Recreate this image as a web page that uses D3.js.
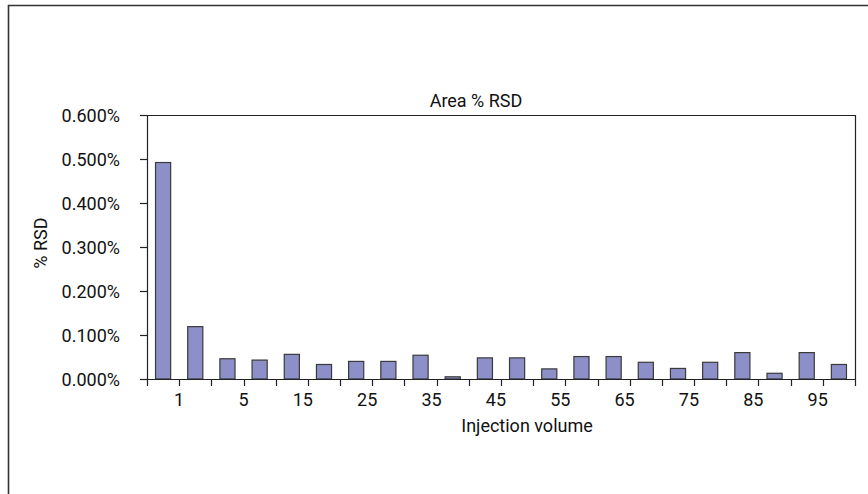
<!DOCTYPE html>
<html>
<head>
<meta charset="utf-8">
<script src="https://cdn.jsdelivr.net/npm/d3@7"></script>
<style>
  html, body { margin: 0; padding: 0; background: #fff; }
  svg { display: block; }
  text { font-family: Roboto, "Liberation Sans", Arial, sans-serif; fill: #111; }
</style>
</head>
<body>
<svg id="chart" width="868" height="494"></svg>
<script>
// ---- data ----
const categories = ["1","2","5","10","15","20","25","30","35","40","45","50","55","60","65","70","75","80","85","90","95","100"];
const rsdValues = [0.00492, 0.00119, 0.00046, 0.00043, 0.00056, 0.00033, 0.00040, 0.00040, 0.00054, 0.00005, 0.00048,
                   0.00048, 0.00023, 0.00051, 0.00051, 0.00038, 0.00024, 0.00038, 0.00060, 0.00013, 0.00060, 0.00033];
const yTickValues = [0, 0.001, 0.002, 0.003, 0.004, 0.005, 0.006];
const chartTitle = "Area % RSD";
const xTitle = "Injection volume";
const yTitle = "% RSD";

const FONT = "Roboto, 'Liberation Sans', Arial, sans-serif";
const FS = "18px";

const svg = d3.select("#chart");

// outer frame (extends beyond right/bottom edges)
svg.append("path")
  .attr("d", "M8.5,900 L8.5,5.5 L900,5.5")
  .attr("fill", "none").attr("stroke", "#333").attr("stroke-width", 1.6);

const pLeft = 147, pRight = 855, pTop = 115, pBottom = 379;

const x = d3.scaleBand().domain(categories).range([pLeft, pRight]).paddingInner(0.53).paddingOuter(0.265);
const xb = d3.scaleBand().domain(categories).range([pLeft, pRight]).padding(0); // band boundaries
const y = d3.scaleLinear().domain([0, 0.006]).range([pBottom, pTop]);

// plot border top & right
svg.append("path")
  .attr("d", `M${pLeft - 7},${y(0.006) + 0.5} L${pRight + 0.5},${y(0.006) + 0.5} L${pRight + 0.5},${pBottom}`)
  .attr("fill", "none").attr("stroke", "#222").attr("stroke-width", 1.2);

// bars
svg.append("g").selectAll("rect").data(rsdValues).join("rect")
  .attr("x", (d, i) => x(categories[i]))
  .attr("y", d => y(d))
  .attr("width", x.bandwidth())
  .attr("height", d => y(0) - y(d))
  .attr("fill", "#8d90c8")
  .attr("stroke", "#3a3a3a")
  .attr("stroke-width", 1.2);

// y axis
const yAxis = d3.axisLeft(y).tickValues(yTickValues).tickFormat(d3.format(".3%")).tickSize(7).tickSizeOuter(0);
const gy = svg.append("g").attr("transform", `translate(${pLeft},0)`).call(yAxis);
gy.select(".domain").attr("stroke", "#222").attr("stroke-width", 1.2);
gy.selectAll(".tick line").attr("stroke", "#222").attr("stroke-width", 1.2);
gy.selectAll(".tick text").attr("x", -27).attr("dy", "0.36em")
  .style("font-size", FS).style("font-family", FONT).attr("fill", "#111");

// x axis line
svg.append("line").attr("x1", pLeft).attr("x2", pRight + 0.5).attr("y1", pBottom + 0.5).attr("y2", pBottom + 0.5)
  .attr("stroke", "#222").attr("stroke-width", 1.2);

// x ticks at band boundaries
const boundaries = categories.map(c => xb(c)).concat([xb(categories[categories.length - 1]) + xb.bandwidth()]);
svg.append("g").selectAll("line").data(boundaries).join("line")
  .attr("x1", d => Math.round(d) + 0.5).attr("x2", d => Math.round(d) + 0.5)
  .attr("y1", pBottom).attr("y2", pBottom + 7)
  .attr("stroke", "#222").attr("stroke-width", 1.2);

// x tick labels: every other category, at band right edge
svg.append("g").selectAll("text").data(categories.filter((c, i) => i % 2 === 0)).join("text")
  .attr("x", d => xb(d) + xb.bandwidth() + 5)
  .attr("y", 406)
  .attr("text-anchor", "end")
  .style("font-size", FS)
  .text(d => d);

// titles
svg.append("text").attr("x", 476).attr("y", 107).attr("text-anchor", "middle")
  .style("font-size", FS).text(chartTitle);
svg.append("text").attr("x", 527).attr("y", 432).attr("text-anchor", "middle")
  .style("font-size", FS).text(xTitle);
svg.append("text").attr("transform", "translate(47,243) rotate(-90)").attr("text-anchor", "middle")
  .style("font-size", FS).text(yTitle);
</script>
</body>
</html>
